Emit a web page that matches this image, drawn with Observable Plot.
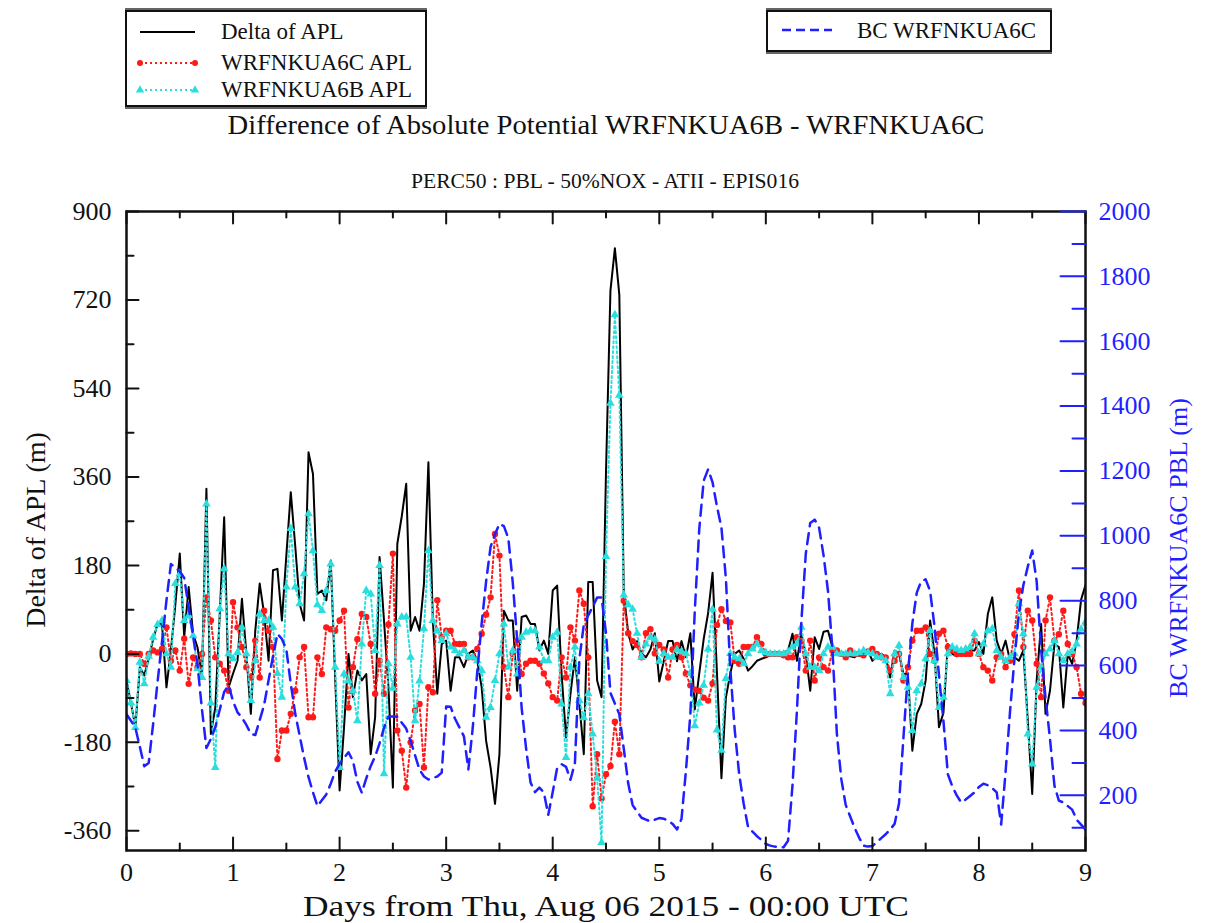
<!DOCTYPE html>
<html><head><meta charset="utf-8">
<script src="https://cdn.jsdelivr.net/npm/d3@7"></script>
<script src="https://cdn.jsdelivr.net/npm/@observablehq/plot@0.6"></script>
<style>
body{margin:0;background:#fff;font-family:"Liberation Serif","Times New Roman",serif;}
#wrap{position:relative;width:1206px;height:923px;overflow:hidden;background:#fff;}
#chart{position:absolute;left:0;top:0;}
.box{position:absolute;border:2px solid #111;box-shadow:0 -2px 0 #666,0 2px 0 #666;background:#fff;}
.t{position:absolute;white-space:nowrap;line-height:1;color:#111;}
</style></head><body>
<div id="wrap">
  <div id="chart"></div>
  <div class="box" style="left:125px;top:10px;width:298px;height:93px">
    <svg id="leg1" width="298" height="93" style="position:absolute;left:0;top:0"></svg>
    <div class="t" id="l1" style="left:94px;top:8px;font-size:23px"></div>
    <div class="t" id="l2" style="left:94px;top:39px;font-size:23px"></div>
    <div class="t" id="l3" style="left:94px;top:66px;font-size:23px"></div>
  </div>
  <div class="box" style="left:766px;top:10px;width:282px;height:38px">
    <svg id="leg2" width="282" height="38" style="position:absolute;left:0;top:0"></svg>
    <div class="t" id="l4" style="left:89px;top:7px;font-size:23px"></div>
  </div>
  <div class="t" id="title" style="left:606px;top:112px;font-size:27px;transform:translateX(-50%) scaleX(1.06)"></div>
  <div class="t" id="subtitle" style="left:605px;top:171px;font-size:20px;transform:translateX(-50%) scaleX(1.08)"></div>
</div>
<script>
// ---- data (hourly, 0..216 h from Thu Aug 06 2015 00:00 UTC) ----
const titleText = "Difference of Absolute Potential WRFNKUA6B - WRFNKUA6C";
const subtitleText = "PERC50 : PBL - 50%NOX - ATII - EPIS016";
const xLabel = "Days from Thu, Aug 06 2015 - 00:00 UTC";
const yLabel = "Delta of APL (m)";
const y2Label = "BC WRFNKUA6C PBL (m)";
const seriesNames = ["Delta of APL", "WRFNKUA6C APL", "WRFNKUA6B APL", "BC WRFNKUA6C"];

const deltaAPL = [-54,-100,-149,-27,-44,-10,30,61,61,-68,
 7,100,204,34,136,41,13,-48,336,-163,
 -109,80,278,-68,-40,-14,112,0,-122,47,
 143,81,-14,170,173,68,200,329,220,102,
 68,410,366,122,129,109,190,-48,-278,-149,
 0,-88,-34,-54,-41,-204,-129,197,68,-68,
 -272,224,280,346,47,75,47,143,390,68,
 -81,20,27,-75,-7,-7,-27,0,7,-14,
 -68,-177,-231,-305,-204,88,68,68,-75,75,
 78,61,61,7,27,0,129,139,-41,-170,
 -81,-7,-100,-204,146,146,-54,-88,370,739,
 825,731,125,42,9,26,1,-7,9,42,
 -56,-15,26,26,-15,26,-7,42,-113,-40,
 30,83,165,-40,-253,-89,-40,0,7,-10,
 -34,-25,-14,-10,-7,-3,0,0,3,7,
 41,-14,41,0,-75,34,10,45,47,14,
 0,0,0,-5,-7,0,5,7,-14,-5,
 0,-7,-48,7,0,-41,-41,-197,-122,-102,
 -54,68,0,-149,-120,20,0,-5,0,5,
 7,7,24,0,81,115,27,0,27,-14,
 -7,-14,7,-136,-285,-54,61,-122,-75,20,
 14,-109,0,-20,27,110,140];

const apl6C = [0,1,0,0,-20,0,7,3,10,54,
 -14,7,-34,31,-61,-7,-27,0,115,68,
 -7,-20,-34,-75,105,54,14,-27,-48,27,
 -48,88,47,14,-214,-156,-156,-122,-75,-7,
 14,-129,-129,-7,-41,54,50,47,68,88,
 -109,-27,30,81,75,20,-81,-14,-81,60,
 204,-156,-197,-272,-180,-115,-102,-231,-68,-78,
 109,34,47,47,20,20,20,-7,-7,10,
 41,80,115,244,200,-27,-88,0,27,-41,
 -20,-14,-14,-20,-40,-60,-88,-95,-7,-48,
 54,27,129,102,-7,-310,-204,-294,-245,-228,
 -138,-204,108,42,26,18,-7,42,50,1,
 18,9,-48,9,18,-7,-40,-64,-73,-75,
 -89,-95,-60,59,91,67,64,-14,-20,14,
 14,14,34,20,0,0,0,0,-3,-7,
 -7,34,27,-34,27,-54,-7,-27,-34,7,
 7,0,-7,7,0,0,-3,5,10,0,
 -7,-7,-34,-14,0,-54,-27,27,47,47,
 54,0,-14,41,47,14,7,0,0,0,
 0,27,0,-27,-34,-54,-7,0,-27,-14,
 40,129,14,88,68,-20,-88,68,115,27,
 40,88,20,0,-27,-81,-100];

const apl6B = [-54,-100,-150,-17,-61,-5,34,60,68,0,
 -27,143,163,68,78,37,-30,-48,305,-100,
 -231,92,173,0,-10,3,54,0,-95,-14,
 81,68,68,54,-40,-88,136,255,136,102,
 163,285,210,100,88,129,183,-27,-231,-41,
 -54,-75,-136,20,129,122,7,180,-244,-20,
 -70,61,75,75,-7,-136,-55,51,210,68,
 47,27,41,14,7,0,7,-7,-7,-14,
 -34,-129,-109,-54,0,61,-27,7,-41,34,
 44,47,47,14,-14,-14,34,44,-102,-211,
 -27,14,-95,-130,-81,-163,-253,-384,198,510,
 690,526,120,100,91,42,-7,20,34,30,
 -15,1,-7,-7,9,5,1,-40,-146,-100,
 -64,10,91,-155,-196,-50,1,-7,-10,-20,
 0,10,20,7,3,0,0,0,0,5,
 14,20,54,0,-27,-27,-34,0,14,14,
 0,0,0,0,0,3,7,3,0,-7,
 -7,-14,-81,0,17,-48,-68,-156,-75,-61,
 -10,47,-14,-109,-88,0,14,10,7,10,
 14,41,0,20,47,51,7,-7,-14,-7,
 0,102,41,-163,-224,-68,-27,0,10,27,
 0,-14,0,5,20,50,65];

const pbl6C = [450,430,408,350,290,300,420,550,674,801,
 913,903,890,870,780,691,602,464,346,374,
 410,464,519,540,490,456,440,417,390,386,
 432,479,555,629,698,682,650,544,452,384,
 316,256,209,167,185,203,236,273,298,316,
 333,306,242,208,252,290,320,360,408,443,
 443,442,424,406,367,323,279,258,249,254,
 258,270,474,473,436,409,382,280,410,580,
 730,860,966,1005,1037,1030,993,856,679,470,
 345,240,210,224,209,140,210,285,296,288,
 248,300,620,726,755,781,810,810,700,516,
 483,450,344,237,170,150,131,125,120,125,
 130,128,122,112,95,127,275,450,770,1020,
 1170,1205,1165,1090,1025,870,590,400,265,175,
 102,88,74,63,50,45,42,40,40,60,
 230,460,735,945,1040,1050,1025,940,830,650,
 390,250,170,135,100,70,45,42,44,55,
 68,80,95,112,175,380,575,730,825,860,
 866,830,720,570,430,265,228,200,178,187,
 198,209,226,236,231,222,209,110,272,458,
 620,760,848,905,955,860,650,500,375,230,
 184,178,167,156,125,110,95];

const leftMajor = [-360,-180,0,180,360,540,720,900];
const leftMinor = [-270,-90,90,270,450,630,810];
const dayMajor = [0,1,2,3,4,5,6,7,8,9];
const dayMinor = [0.5,1.5,2.5,3.5,4.5,5.5,6.5,7.5,8.5];
const rightMajor = [200,400,600,800,1000,1200,1400,1600,1800,2000];
const rightMinor = [100,300,500,700,900,1100,1300,1500,1700,1900];
const leftDomain = [-400, 900];
const rightDomain = [30, 2000];

// ---- build ----
const BLUE = "#1f1fff", RED = "#ff1a1a", CYAN = "#2adede", INK = "#111";
const toLeft = p => leftDomain[0] + (p - rightDomain[0]) * (leftDomain[1] - leftDomain[0]) / (rightDomain[1] - rightDomain[0]);
const rows = deltaAPL.map((v, i) => ({day: i / 24, delta: v, c: apl6C[i], b: apl6B[i], pbl: pbl6C[i]}));

const tickShape = {draw(ctx, l) { ctx.moveTo(0, 0); ctx.lineTo(0, -l); }};
const vtick = (data, opts) => Plot.vector(data, {shape: tickShape, anchor: "start", stroke: INK, strokeWidth: 2, ...opts});

const chart = Plot.plot({
  width: 1206, height: 923,
  marginLeft: 126, marginRight: 121, marginTop: 211, marginBottom: 73,
  x: {domain: [0, 9]},
  y: {domain: leftDomain},
  style: {fontFamily: "'Liberation Serif', serif", fontSize: "26px", color: INK, background: "transparent", overflow: "visible"},
  marks: [
    Plot.line(rows, {x: "day", y: "delta", stroke: "#000", strokeWidth: 2, clip: true}),
    Plot.line(rows, {x: "day", y: "c", stroke: RED, strokeWidth: 2, strokeDasharray: "2,3", clip: true}),
    Plot.dot(rows, {x: "day", y: "c", r: 3.2, fill: RED, clip: true}),
    Plot.line(rows, {x: "day", y: "b", stroke: CYAN, strokeWidth: 2, strokeDasharray: "2,3", clip: true}),
    Plot.dot(rows, {x: "day", y: "b", symbol: "triangle", r: 3.2, fill: CYAN, clip: true}),
    Plot.line(rows, {x: "day", y: d => toLeft(d.pbl), stroke: BLUE, strokeWidth: 2.5, strokeDasharray: "11,7", clip: true}),
    Plot.frame({stroke: INK, strokeWidth: 2.5}),
    vtick(leftMajor, {x: () => 0, y: d => d, length: 12, rotate: 90}),
    vtick(leftMinor, {x: () => 0, y: d => d, length: 7, rotate: 90}),
    vtick(dayMajor, {x: d => d, y: () => leftDomain[0], length: 13, rotate: 0}),
    vtick(dayMinor, {x: d => d, y: () => leftDomain[0], length: 7, rotate: 0}),
    vtick(dayMajor, {x: d => d, y: () => leftDomain[1], length: 12, rotate: 180}),
    vtick(dayMinor, {x: d => d, y: () => leftDomain[1], length: 6, rotate: 180}),
    vtick(rightMajor, {x: () => 9, y: d => toLeft(d), length: 25, rotate: -90, stroke: BLUE}),
    vtick(rightMinor, {x: () => 9, y: d => toLeft(d), length: 13, rotate: -90, stroke: BLUE}),
    Plot.axisX({ticks: dayMajor, tickSize: 0, tickPadding: 12, fontSize: 26, label: null, tickFormat: d => String(d)}),
    Plot.axisY({ticks: leftMajor, tickSize: 0, tickPadding: 15, fontSize: 26, label: null, tickFormat: d => String(d)}),
    Plot.text(rightMajor, {x: () => 9, y: d => toLeft(d), text: d => String(d), dx: 13, textAnchor: "start", fill: BLUE, fontSize: 26}),
    Plot.text([yLabel], {text: d => d, frameAnchor: "left", textAnchor: "middle", lineAnchor: "middle", dx: -90, dy: -1, rotate: -90, fontSize: 28}),
    Plot.text([y2Label], {text: d => d, frameAnchor: "right", textAnchor: "middle", lineAnchor: "middle", dx: 93, dy: 17, rotate: -90, fontSize: 26, fill: BLUE}),
    Plot.text([xLabel], {text: d => d, frameAnchor: "bottom", textAnchor: "middle", lineAnchor: "middle", dy: 56, fontSize: 29})
  ]
});
document.getElementById("chart").appendChild(chart);
// the reference's x-axis title is drawn wider than its height suggests
d3.select(chart).selectAll("text").filter(function() { return this.textContent === xLabel; })
  .attr("textLength", 606).attr("lengthAdjust", "spacingAndGlyphs");

// ---- titles and legends ----
document.getElementById("title").textContent = titleText;
document.getElementById("subtitle").textContent = subtitleText;
["l1","l2","l3","l4"].forEach((id, i) => document.getElementById(id).textContent = seriesNames[i]);

const leg1 = d3.select("#leg1");
leg1.append("line").attr("x1", 13).attr("x2", 68).attr("y1", 20).attr("y2", 20).attr("stroke", "#000").attr("stroke-width", 2);
leg1.append("line").attr("x1", 13).attr("x2", 68).attr("y1", 51).attr("y2", 51).attr("stroke", RED).attr("stroke-width", 2).attr("stroke-dasharray", "2,3");
leg1.selectAll("circle").data([13, 68]).join("circle").attr("cx", d => d).attr("cy", 51).attr("r", 3).attr("fill", RED);
leg1.append("line").attr("x1", 13).attr("x2", 68).attr("y1", 78).attr("y2", 78).attr("stroke", CYAN).attr("stroke-width", 2).attr("stroke-dasharray", "2,3");
leg1.selectAll("path.tri").data([13, 68]).join("path").attr("class", "tri")
  .attr("d", d3.symbol(d3.symbolTriangle, 30)).attr("transform", d => `translate(${d},78)`).attr("fill", CYAN);
const leg2 = d3.select("#leg2");
leg2.append("line").attr("x1", 14).attr("x2", 64).attr("y1", 18).attr("y2", 18).attr("stroke", BLUE).attr("stroke-width", 2.5).attr("stroke-dasharray", "9,5");
</script>
</body></html>
